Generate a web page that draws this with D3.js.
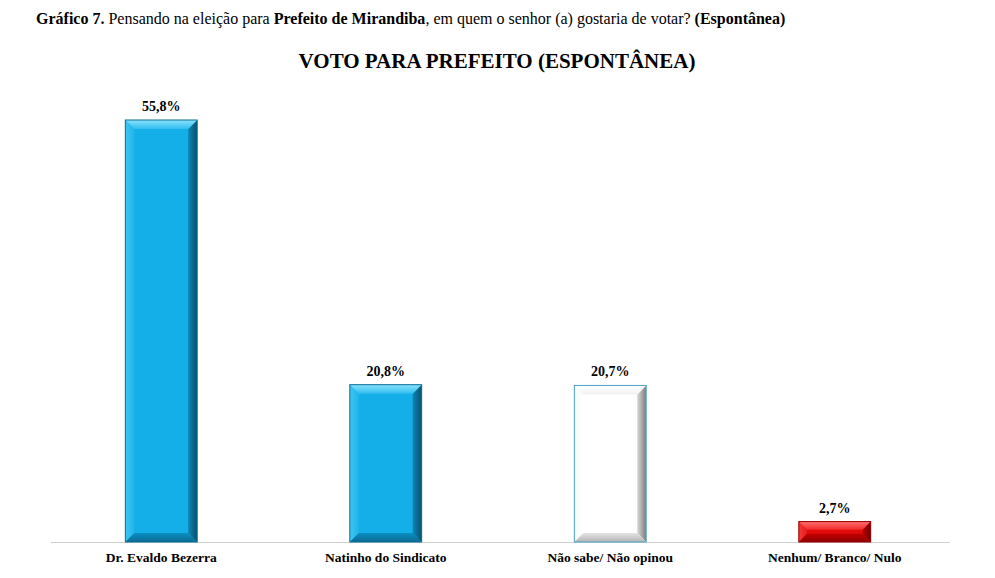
<!DOCTYPE html>
<html><head><meta charset="utf-8">
<script src="https://cdn.jsdelivr.net/npm/d3@7"></script>
<style>body{margin:0;background:#fff}svg{display:block;font-family:"Liberation Serif","Times New Roman",serif}</style>
</head><body><svg id="c" width="995" height="578"></svg>
<script>
const categories = ["Dr. Evaldo Bezerra", "Natinho do Sindicato", "Não sabe/ Não opinou", "Nenhum/ Branco/ Nulo"];
const values = [55.8, 20.8, 20.7, 2.7];
const valueLabels = ["55,8%", "20,8%", "20,7%", "2,7%"];
const barKinds = ["blue", "blue", "white", "red"];

const svg = d3.select("#c");
const base = 542;
const x = d3.scaleBand().domain(categories).range([49, 947]).paddingInner(0.68).paddingOuter(0.34);
const y = d3.scaleLinear().domain([0, 55.8]).range([base, 120]);

const pal = {
  blue: {face:"#14aee8", top:["#8ae2fb","#30bdf0"], left:["#40c6f2","#20b4ea"], right:["#0e86b4","#0a4f6c"], bottom:["#0a8fc2","#0b6a92"], stroke:"#0c6f98"},
  white:{face:"#ffffff", top:["#ffffff","#f2f2f2"], left:["#f8f8f8","#ffffff"], right:["#d8d8d8","#7c7c7c"], bottom:["#e4e4e4","#b4b4b4"], stroke:"#4aa3c4"},
  red:  {face:"#e20a0a", top:["#ff7070","#f22a2a"], left:["#f43a3a","#e61a1a"], right:["#b80000","#6e0000"], bottom:["#c00000","#8e0000"], stroke:"#9a0000"}
};

const defs = svg.append("defs");
function grad(id, c, x1, y1, x2, y2) {
  const lg = defs.append("linearGradient").attr("id", id)
    .attr("x1", x1).attr("y1", y1).attr("x2", x2).attr("y2", y2);
  lg.append("stop").attr("offset", "0%").attr("stop-color", c[0]);
  lg.append("stop").attr("offset", "100%").attr("stop-color", c[1]);
}
Object.entries(pal).forEach(([k, p]) => {
  grad(k + "T", p.top, 0, 0, 0, 1);
  grad(k + "L", p.left, 0, 0, 1, 0);
  grad(k + "R", p.right, 0, 0, 1, 0);
  grad(k + "B", p.bottom, 0, 0, 0, 1);
});

// header
const h = svg.append("text").attr("x", 36).attr("y", 24).attr("font-size", 16).attr("fill", "#000");
h.append("tspan").attr("font-weight", "bold").text("Gráfico 7.");
h.append("tspan").text(" Pensando na eleição para ");
h.append("tspan").attr("font-weight", "bold").text("Prefeito de Mirandiba");
h.append("tspan").text(", em quem o senhor (a) gostaria de votar? ");
h.append("tspan").attr("font-weight", "bold").text("(Espontânea)");

svg.append("text").attr("x", 497).attr("y", 68).attr("text-anchor", "middle")
  .attr("font-size", 21).attr("font-weight", "bold").text("VOTO PARA PREFEITO (ESPONTÂNEA)");

// axis line
svg.append("line").attr("x1", 51).attr("x2", 950).attr("y1", base + 0.5).attr("y2", base + 0.5)
  .attr("stroke", "#d0d0d0").attr("stroke-width", 1);

const g = svg.append("g");
categories.forEach((c, i) => {
  const x0 = x(c), w = x.bandwidth(), y0 = y(values[i]), hgt = base - y0;
  const k = barKinds[i], p = pal[k];
  const b = Math.min(9, hgt / 2.5);
  const x1 = x0 + w, y1 = base;
  const poly = pts => g.append("polygon").attr("points", pts.map(q => q.join(",")).join(" "));
  poly([[x0,y0],[x1,y0],[x1,y1],[x0,y1]]).attr("fill", p.face);
  poly([[x0,y0],[x0+b,y0+b],[x0+b,y1-b],[x0,y1]]).attr("fill", `url(#${k}L)`);
  poly([[x1,y0],[x1,y1],[x1-b,y1-b],[x1-b,y0+b]]).attr("fill", `url(#${k}R)`);
  poly([[x0,y1],[x0+b,y1-b],[x1-b,y1-b],[x1,y1]]).attr("fill", `url(#${k}B)`);
  poly([[x0,y0],[x1,y0],[x1-b,y0+b],[x0+b,y0+b]]).attr("fill", `url(#${k}T)`);
  g.append("rect").attr("x", x0).attr("y", y0).attr("width", w).attr("height", hgt)
    .attr("fill", "none").attr("stroke", p.stroke).attr("stroke-width", 1);
  g.append("text").attr("x", x0 + w / 2).attr("y", y0 - 9).attr("text-anchor", "middle")
    .attr("font-size", 14).attr("font-weight", "bold").text(valueLabels[i]);
});

// category labels
svg.append("g").attr("transform", `translate(0,${base})`)
  .call(d3.axisBottom(x).tickSize(0).tickPadding(10))
  .call(a => a.select(".domain").remove())
  .selectAll("text").attr("font-family", "Liberation Serif, serif").attr("font-size", 13.5)
  .attr("font-weight", "bold").attr("fill", "#000");
</script></body></html>
